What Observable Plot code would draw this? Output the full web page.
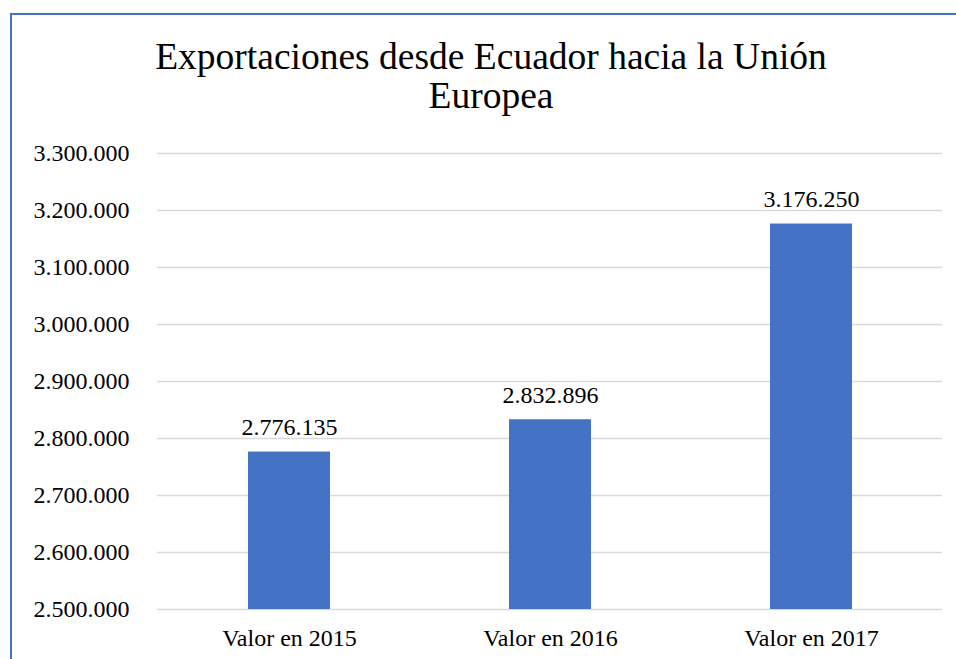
<!DOCTYPE html>
<html>
<head>
<meta charset="utf-8">
<script src="https://cdn.jsdelivr.net/npm/d3@7"></script>
<script src="https://cdn.jsdelivr.net/npm/@observablehq/plot@0.6"></script>
</head>
<body style="margin:0">
<div style="position:absolute; left:10px; top:13px; width:944px; height:644px; border-left:2px solid #4472C4; border-top:2px solid #4472C4;"></div>
<div style="position:absolute; left:26px; width:930px; top:37px; text-align:center; font-family:'Liberation Serif'; font-size:37.5px; line-height:39px; color:#000;">Exportaciones desde Ecuador hacia la Unión<br>Europea</div>
<div id="chart" style="position:absolute; left:0; top:130px;"></div>
<script>
const categories = ["Valor en 2015", "Valor en 2016", "Valor en 2017"];
const values = [2776135, 2832896, 3176250];
const yTicks = [2500000, 2600000, 2700000, 2800000, 2900000, 3000000, 3100000, 3200000, 3300000];

const locale = d3.formatLocale({decimal: ",", thousands: ".", grouping: [3], currency: ["$", ""]});
const fmt = locale.format(",d");

const data = categories.map((c, i) => ({category: c, value: values[i]}));

const chart = Plot.plot({
  width: 956,
  height: 529,
  marginLeft: 157,
  marginRight: 14,
  marginTop: 23,
  marginBottom: 50,
  style: {fontFamily: "'Liberation Serif'", fontSize: "24px", color: "#000", background: "transparent", overflow: "visible"},
  x: {domain: categories, paddingInner: 0.687, paddingOuter: 0.3435, label: null},
  y: {domain: [2500000, 3300000], label: null},
  marks: [
    Plot.gridY(yTicks, {stroke: "#d9d9d9", strokeOpacity: 1, strokeWidth: 1.3}),
    Plot.axisY({ticks: yTicks, tickFormat: fmt, tickSize: 0, tickPadding: 28, fontSize: 24, label: null}),
    Plot.axisX({tickSize: 0, tickPadding: 19, fontSize: 24, label: null}),
    Plot.barY(data, {x: "category", y1: 2500000, y2: "value", fill: "#4472C4"}),
    Plot.text(data, {x: "category", y: "value", text: d => fmt(d.value), lineAnchor: "bottom", dy: -17, fontSize: 24, fill: "#000"})
  ]
});
document.getElementById("chart").appendChild(chart);
</script>
</body>
</html>
